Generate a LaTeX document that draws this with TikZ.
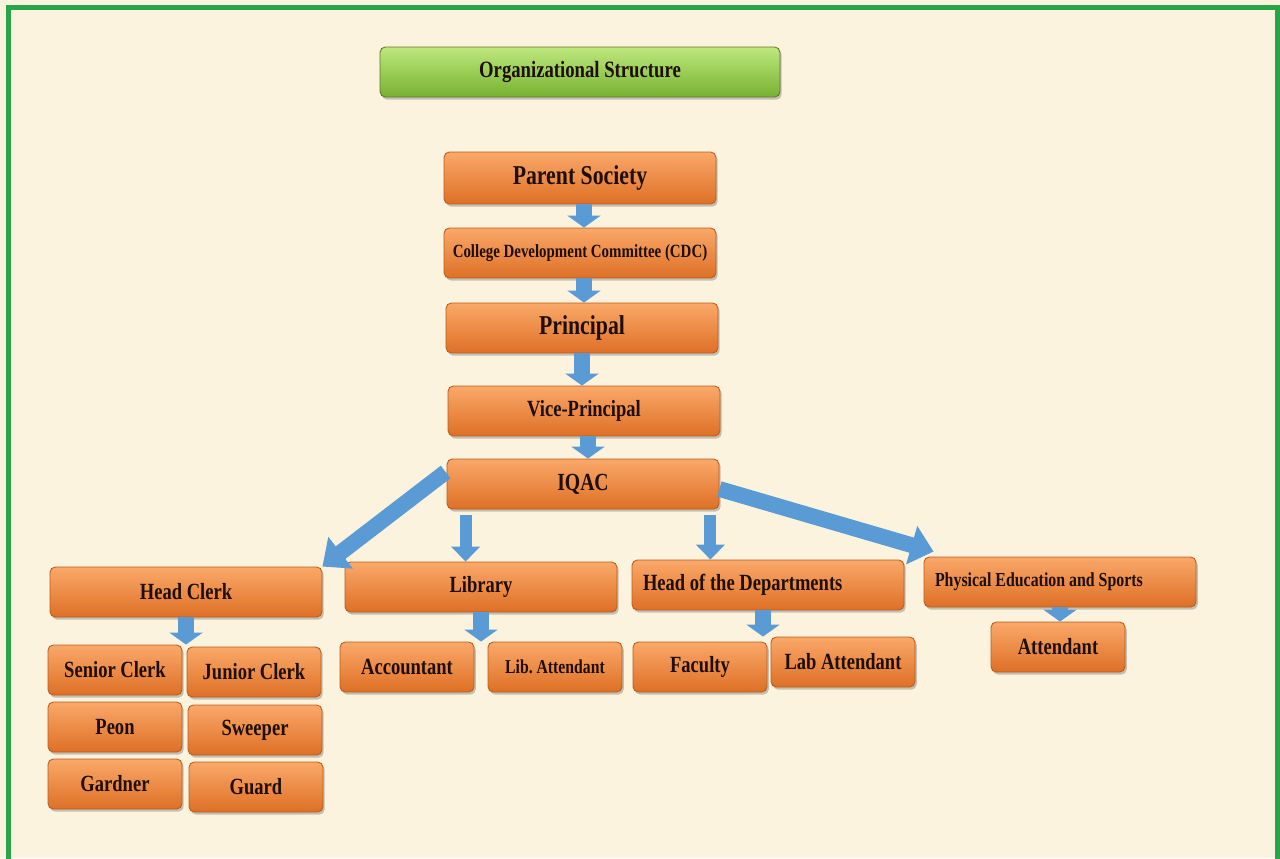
\documentclass[tikz,border=0pt]{standalone}
\usepackage{fontspec}
\newfontfamily\orgfont{Liberation Serif}[FakeStretch=0.8]
\usetikzlibrary{arrows.meta,shadows,calc}
\definecolor{paper}{RGB}{252,243,222}
\definecolor{frame}{RGB}{40,165,75}
\definecolor{flow}{RGB}{91,155,213}
\definecolor{posttop}{RGB}{250,168,105}
\definecolor{postmid}{RGB}{247,140,60}
\definecolor{postbot}{RGB}{222,112,38}
\definecolor{postedge}{RGB}{185,92,28}
\definecolor{leaftop}{RGB}{190,232,125}
\definecolor{leafmid}{RGB}{150,210,80}
\definecolor{leafbot}{RGB}{118,178,48}
\definecolor{leafedge}{RGB}{105,115,40}
\definecolor{ink}{RGB}{30,14,6}

\tikzset{
  post/.style={rounded corners=3pt, draw=postedge, line width=0.5pt,
    top color=posttop, middle color=postmid, bottom color=postbot,
    drop shadow={shadow xshift=1pt, shadow yshift=-1.5pt, opacity=0.45},
    text=ink, inner sep=0pt, minimum height=1cm},
  widepost/.style={post, minimum width=5.44cm},
  unitpost/.style={post, minimum width=2.68cm},
  lefttext/.style={text width=5cm, align=flush left},
  bigtext/.style={font=\orgfont\bfseries\fontsize{15.5}{18}\selectfont},
  midtext/.style={font=\orgfont\bfseries\fontsize{13.2}{16}\selectfont},
  smalltext/.style={font=\orgfont\bfseries\fontsize{10.6}{13}\selectfont},
  chain/.style={line width=9.6pt, flow, -{Triangle[width=18.7pt,length=6.8pt]}},
  feed/.style={line width=6.8pt, flow, -{Triangle[width=16pt,length=8.5pt]}},
  slant/.style={line width=9pt, flow, -{Triangle[width=22pt,length=13pt]}}
}

\begin{document}
\begin{tikzpicture}[x=0.02cm,y=-0.02cm]
  \useasboundingbox (0,0) rectangle (1280,858);
  \fill[paper] (0,0) rectangle (1280,858);
  \draw[frame, line width=2.8pt] (8.5,870) -- (8.5,7.5) -- (1277.5,7.5) -- (1277.5,870);

  % title bar
  \node[post, top color=leaftop, middle color=leafmid, bottom color=leafbot, draw=leafedge,
    minimum width=8cm, font=\orgfont\bfseries\fontsize{13.3}{16}\selectfont] (title) at (580,72) {Organizational Structure};

  % main chain
  \node[widepost, bigtext, minimum height=1.04cm] (soc) at (580,178) {Parent Society};
  \node[widepost, smalltext] (cdc) at (580,253) {College Development Committee (CDC)};
  \node[widepost, bigtext] (prin) at (582,328) {Principal};
  \node[widepost, midtext] (vice) at (584,411) {Vice-Principal};
  \node[widepost, font=\orgfont\bfseries\fontsize{14}{17}\selectfont] (iqac) at (583,484) {IQAC};

  % second level
  \node[widepost, midtext] (hclerk) at (186,592) {Head Clerk};
  \node[widepost, midtext] (lib) at (481,587) {Library};
  \node[widepost, midtext, lefttext] (hod) at (768,585) {Head of the Departments};
  \node[widepost, font=\orgfont\bfseries\fontsize{11.3}{13}\selectfont, lefttext] (pes) at (1060,582) {Physical Education and Sports};

  % staff
  \foreach \n/\x/\y/\t in {sc/115/670/Senior Clerk, jc/254/672/Junior Clerk,
      peon/115/727/Peon, sweep/255/730/Sweeper, gard/115/784/Gardner, guard/256/787/Guard,
      acct/407/667/Accountant, fac/700/667/Faculty, att/1058/647/Attendant}
    \node[unitpost, midtext] (\n) at (\x,\y) {\t};
  \node[unitpost, font=\orgfont\bfseries\fontsize{11.2}{13}\selectfont] (libatt) at (555,667) {Lib.\ Attendant};
  \node[unitpost, midtext, minimum width=2.88cm] (labatt) at (843,662) {Lab Attendant};

  % arrows
  \draw[chain] ([xshift=0.08cm]soc.south) -- ([xshift=0.08cm]soc.south |- cdc.north);
  \draw[chain] ([xshift=0.08cm]cdc.south) -- ([xshift=0.08cm]cdc.south |- prin.north);
  \draw[chain] (prin.south) -- (prin.south |- vice.north);
  \draw[chain] ([xshift=0.08cm]vice.south) -- ([xshift=0.08cm]vice.south |- iqac.north);
  \coordinate (libfoot) at ($(iqac.south west)+(19,6)$);
  \coordinate (hodfoot) at ($(iqac.south east)+(-9,6)$);
  \draw[feed] (libfoot) -- (libfoot |- lib.north);
  \draw[feed] (hodfoot) -- (hodfoot |- hod.north);
  \draw[slant] ($(iqac.west)+(-1,-12)$) -- (hclerk.north east);
  \draw[slant] ($(iqac.east)+(0,5)$) -- ($(pes.north west)+(10,-5)$);
  \draw[chain] (hclerk.south) -- (hclerk.south |- sc.north);
  \draw[chain] (lib.south) -- (lib.south |- acct.north);
  \draw[chain] ([xshift=-0.1cm]hod.south) -- ([xshift=-0.1cm]hod.south |- labatt.north);
  \draw[chain] (pes.south) -- (pes.south |- att.north);
\end{tikzpicture}
\end{document}
